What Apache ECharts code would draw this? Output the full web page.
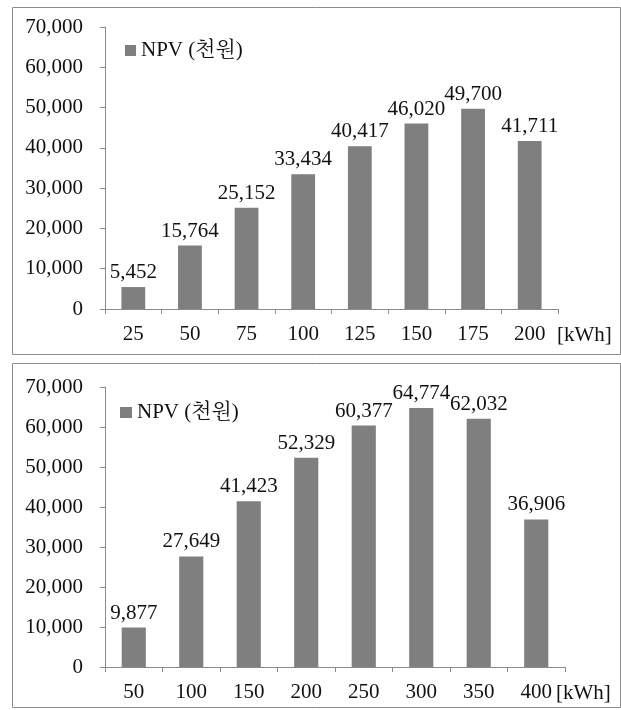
<!DOCTYPE html>
<html>
<head>
<meta charset="utf-8">
<script src="https://cdn.jsdelivr.net/npm/echarts@6/dist/echarts.min.js"></script>
<style>
  html, body { margin: 0; padding: 0; background: #fff; }
  #main { width: 621px; height: 710px; }
</style>
</head>
<body>
<div id="main"></div>
<script>
// data
var catsTop = ['25', '50', '75', '100', '125', '150', '175', '200'];
var npvTop = [5452, 15764, 25152, 33434, 40417, 46020, 49700, 41711];
var catsBottom = ['50', '100', '150', '200', '250', '300', '350', '400'];
var npvBottom = [9877, 27649, 41423, 52329, 60377, 64774, 62032, 36906];
var yTicks = [0, 10000, 20000, 30000, 40000, 50000, 60000, 70000];
var seriesName = 'NPV (천원)';
var unitName = '[kWh]';

var font = "'Liberation Serif', 'Noto Serif CJK KR', 'Noto Sans CJK KR', serif";
var fs = 21;
var barColor = '#7f7f7f';
var axisColor = '#8a8a8a';

function fmt(v) {
    return v.toLocaleString('en-US');
}

function xAxisFor(idx, cats, gap) {
    return {
        type: 'category',
        gridIndex: idx,
        data: cats,
        name: unitName,
        nameLocation: 'end',
        nameGap: gap,
        nameTextStyle: {
            fontFamily: font, fontSize: fs, color: '#111',
            verticalAlign: 'top', padding: [16, 0, 0, 0]
        },
        axisLine: { lineStyle: { color: axisColor } },
        axisTick: { show: true, length: 5, lineStyle: { color: axisColor } },
        axisLabel: { margin: 15, fontFamily: font, fontSize: fs, color: '#111' }
    };
}

function yAxisFor(idx) {
    return {
        type: 'value',
        gridIndex: idx,
        min: yTicks[0],
        max: yTicks[yTicks.length - 1],
        interval: yTicks[1] - yTicks[0],
        splitLine: { show: false },
        axisLine: { show: true, lineStyle: { color: axisColor } },
        axisTick: { show: true, length: 5, lineStyle: { color: axisColor } },
        axisLabel: {
            margin: 22, fontFamily: font, fontSize: fs, color: '#111',
            formatter: fmt
        }
    };
}

function barSeries(idx, vals) {
    return {
        name: seriesName,
        type: 'bar',
        xAxisIndex: idx,
        yAxisIndex: idx,
        data: vals,
        barWidth: '42%',
        itemStyle: { color: barColor },
        label: {
            show: true, position: 'top', distance: 4,
            fontFamily: font, fontSize: fs, color: '#111',
            formatter: function (p) { return fmt(p.value); }
        }
    };
}

var myChart = echarts.init(document.getElementById('main'), null, { renderer: 'canvas' });

var option = {
    animation: false,
    backgroundColor: '#fff',
    graphic: [
        { type: 'rect', shape: { x: 12.5, y: 7.5, width: 608, height: 347 },
          style: { fill: null, stroke: '#8c8c8c', lineWidth: 1 } },
        { type: 'rect', shape: { x: 12.5, y: 363.5, width: 608, height: 344 },
          style: { fill: null, stroke: '#8c8c8c', lineWidth: 1 } }
    ],
    legend: [
        { data: [seriesName], left: 120, top: 35, itemWidth: 11, itemHeight: 11, itemGap: 3,
          icon: 'rect', textStyle: { fontFamily: font, fontSize: fs, color: '#111' } },
        { data: [seriesName], left: 115, top: 397, itemWidth: 12, itemHeight: 11, itemGap: 3,
          icon: 'rect', textStyle: { fontFamily: font, fontSize: fs, color: '#111' } }
    ],
    grid: [
        { left: 105, top: 27, width: 453, height: 282 },
        { left: 105, top: 387, width: 460, height: 280 }
    ],
    xAxis: [xAxisFor(0, catsTop, -1), xAxisFor(1, catsBottom, -11)],
    yAxis: [yAxisFor(0), yAxisFor(1)],
    series: [barSeries(0, npvTop), barSeries(1, npvBottom)]
};

myChart.setOption(option);
</script>
</body>
</html>
